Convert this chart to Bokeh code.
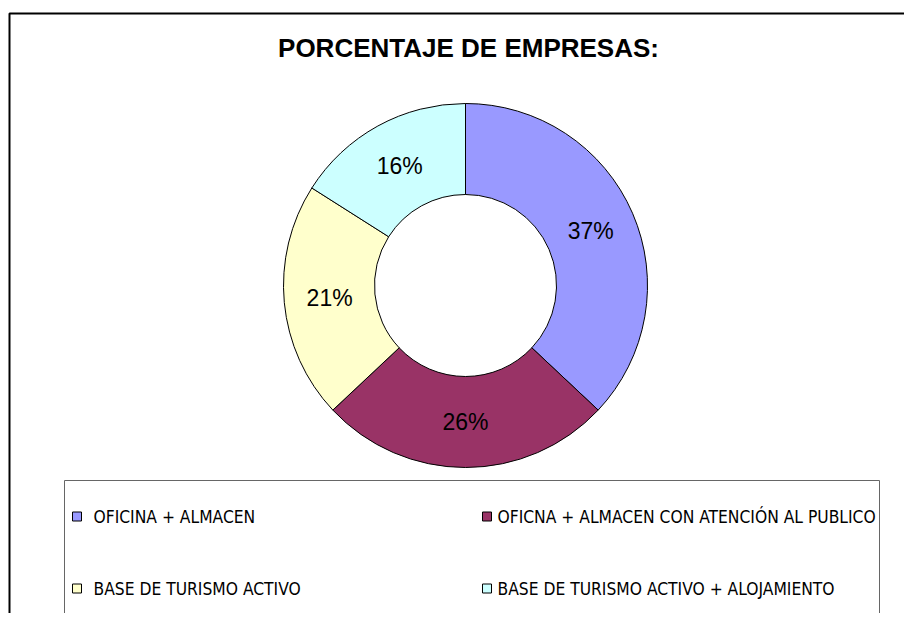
import numpy as np
from bokeh.plotting import figure
from bokeh.models import Range1d, BoxAnnotation, ColumnDataSource
from bokeh.core.properties import value
from bokeh.embed import file_html
from bokeh.resources import INLINE

title = "PORCENTAJE DE EMPRESAS:"
categories = ["OFICINA + ALMACEN",
              "OFICNA + ALMACEN CON ATENCIÓN AL PUBLICO",
              "BASE DE TURISMO ACTIVO",
              "BASE DE TURISMO ACTIVO + ALOJAMIENTO"]
shares = [37, 26, 21, 16]
colors = ["#9999FF", "#993366", "#FFFFCC", "#CCFFFF"]

W, H = 904, 613
p = figure(width=W, height=H, output_backend="svg", toolbar_location=None,
           x_range=Range1d(0, W), y_range=Range1d(H, 0), min_border=0)
p.axis.visible = False
p.grid.visible = False
p.outline_line_color = None
p.background_fill_color = "white"

# outer frame and legend box
p.add_layout(BoxAnnotation(left=9, right=3000, top=13, bottom=3000,
                           fill_alpha=0, line_color="black", line_alpha=1,
                           line_width=2))
p.add_layout(BoxAnnotation(left=64, right=879, top=480, bottom=3000,
                           fill_alpha=0, line_color="#666666", line_alpha=1,
                           line_width=1))

# title
p.text(x=[468], y=[47], text=[title], text_font=value("Liberation Sans"),
       text_font_style="bold", text_font_size="26px", text_align="center",
       text_baseline="middle", text_color="black")

# donut
cx, cy, r_out, r_in = 465, 285, 182, 91
vals = np.array(shares, dtype=float)
frac = vals / vals.sum()
cum = np.concatenate([[0], np.cumsum(frac)])
start = np.pi / 2 - 2 * np.pi * cum[:-1]
end = np.pi / 2 - 2 * np.pi * cum[1:]
src = ColumnDataSource(dict(start=start, end=end, color=colors,
                            x=[cx] * 4, y=[cy] * 4))
p.annular_wedge(x="x", y="y", inner_radius=r_in, outer_radius=r_out,
                start_angle="start", end_angle="end", direction="clock",
                fill_color="color", line_color="black", line_width=1, source=src)

mid = 2 * np.pi * (cum[:-1] + frac / 2)
r_lab = (r_in + r_out) / 2
lx = cx + r_lab * np.sin(mid)
ly = cy - r_lab * np.cos(mid)
p.text(x=lx, y=ly, text=[f"{v}%" for v in shares],
       text_font=value("Liberation Sans"), text_font_size="23px",
       text_align="center", text_baseline="middle", text_color="black")

# legend
sq_x = [76.5, 486.5, 76.5, 486.5]
sq_y = [516, 516, 588, 588]
tx = [93, 497, 93, 497]
p.scatter(x=sq_x, y=sq_y, marker="square", size=9, fill_color=colors,
          line_color="black", line_width=1)
p.text(x=tx, y=sq_y, text=categories,
       text_font=value("DejaVu Sans Condensed"),
       text_font_size="17.3px", text_align="left", text_baseline="middle",
       text_color="black")

open("out.html", "w").write(file_html(p, INLINE))
